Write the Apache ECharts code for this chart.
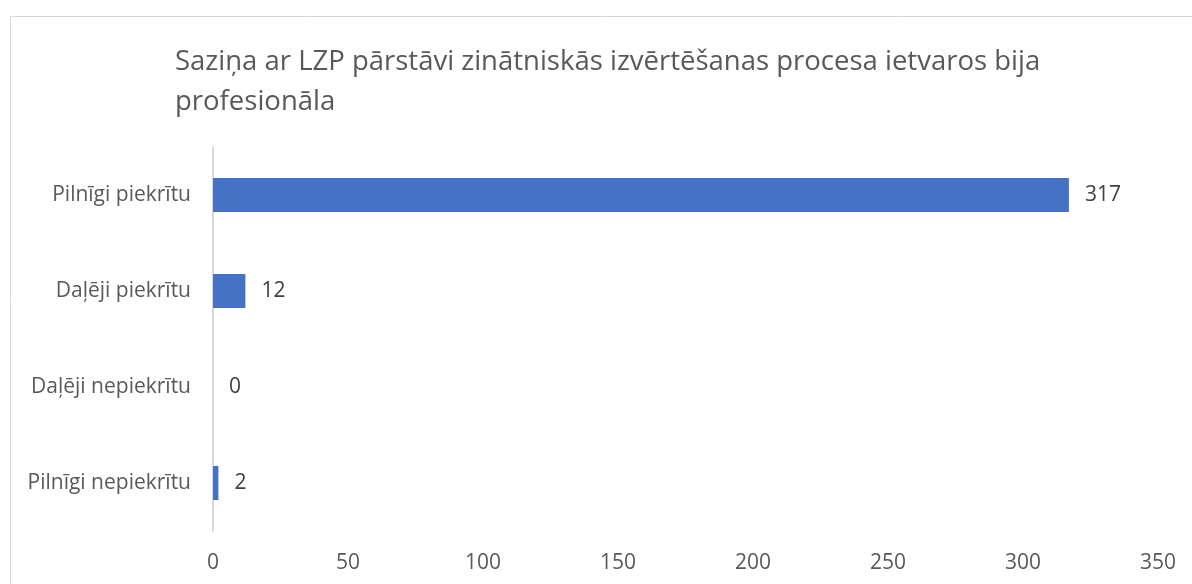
<!DOCTYPE html>
<html>
<head>
<meta charset="utf-8">
<script src="https://cdn.jsdelivr.net/npm/echarts@6/dist/echarts.min.js"></script>
<style>
  html, body { margin: 0; padding: 0; background: #fff; }
  #chart { width: 1192px; height: 584px; }
</style>
</head>
<body>
<div id="chart"></div>
<script>
  // dati
  const categories = ['Pilnīgi nepiekrītu', 'Daļēji nepiekrītu', 'Daļēji piekrītu', 'Pilnīgi piekrītu'];
  const values = [2, 0, 12, 317];
  const xTicks = [0, 350, 50]; // min, max, interval

  const font = '"Open Sans", "Liberation Sans", sans-serif';
  let myChart = echarts.init(document.getElementById('chart'));

  myChart.setOption({
    animation: false,
    title: {
      text: 'Saziņa ar LZP pārstāvi zinātniskās izvērtēšanas procesa ietvaros bija\nprofesionāla',
      left: 170,
      top: 37,
      textStyle: {
        color: '#595959',
        fontSize: 27.5,
        fontWeight: 'normal',
        fontFamily: font,
        lineHeight: 40
      }
    },
    // ramis ap diagrammu
    graphic: [{
      type: 'rect',
      shape: { x: 10.5, y: 16.5, width: 1200, height: 600 },
      style: { fill: 'none', stroke: '#d9d9d9', lineWidth: 1 },
      silent: true
    }],
    grid: {
      left: 213,
      right: 34,
      top: 147,
      bottom: 53
    },
    xAxis: {
      type: 'value',
      min: xTicks[0],
      max: xTicks[1],
      interval: xTicks[2],
      splitLine: { show: false },
      axisLine: { show: false },
      axisTick: { show: false },
      axisLabel: {
        color: '#595959',
        fontSize: 21,
        fontFamily: font,
        margin: 22
      }
    },
    yAxis: {
      type: 'category',
      data: categories,
      axisLine: { show: true, lineStyle: { color: '#d9d9d9', width: 2 } },
      axisTick: { show: false },
      axisLabel: {
        color: '#595959',
        fontSize: 21,
        fontFamily: font,
        margin: 22
      }
    },
    series: [{
      type: 'bar',
      data: values,
      barWidth: 34,
      itemStyle: { color: '#4472C4' },
      label: {
        show: true,
        position: 'right',
        distance: 16,
        color: '#404040',
        fontSize: 21,
        fontFamily: font
      }
    }]
  });
</script>
</body>
</html>
